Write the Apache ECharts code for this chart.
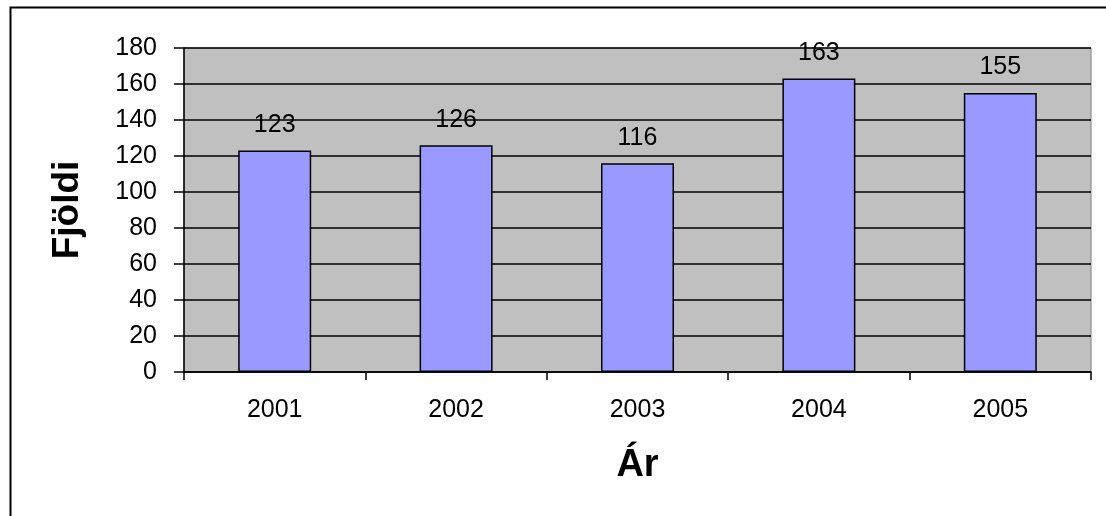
<!DOCTYPE html>
<html><head><meta charset="utf-8">
<script src="https://cdn.jsdelivr.net/npm/echarts@6/dist/echarts.min.js"></script>
<style>html,body{margin:0;padding:0;background:#fff}#c{width:1106px;height:516px}</style>
</head><body><div id="c"></div>
<script>
const categories = ['2001','2002','2003','2004','2005'];
const values = [123, 126, 116, 163, 155];
const yTicks = {min: 0, max: 180, interval: 20};

const chart = echarts.init(document.getElementById('c'), null, {renderer: 'canvas'});
const font = '"Liberation Sans", Arial, sans-serif';
chart.setOption({
  animation: false,
  graphic: [{
    type: 'rect', left: 8, top: 5, z: -10, silent: true,
    shape: {width: 1200, height: 600},
    style: {fill: 'none', stroke: '#000', lineWidth: 2}
  }],
  grid: {left: 184, top: 48, width: 907, height: 324, show: true,
    backgroundColor: '#C0C0C0', borderColor: '#808080', borderWidth: 1},
  xAxis: {
    type: 'category', data: categories,
    name: 'Ár', nameLocation: 'middle', nameGap: 75,
    nameTextStyle: {fontFamily: font, fontSize: 38, fontWeight: 'bold', color: '#000'},
    axisLine: {lineStyle: {color: '#000', width: 1.5}},
    axisTick: {show: true, length: 8, lineStyle: {color: '#000', width: 1.5}},
    axisLabel: {fontFamily: font, fontSize: 25, color: '#000', margin: 26}
  },
  yAxis: {
    type: 'value', min: yTicks.min, max: yTicks.max, interval: yTicks.interval,
    name: 'Fjöldi', nameLocation: 'middle', nameGap: 98,
    nameTextStyle: {fontFamily: font, fontSize: 37, fontWeight: 'bold', color: '#000'},
    axisLine: {show: true, lineStyle: {color: '#000', width: 1.5}},
    axisTick: {show: true, length: 10, lineStyle: {color: '#000', width: 1.5}},
    axisLabel: {fontFamily: font, fontSize: 25, color: '#000', margin: 27},
    splitLine: {lineStyle: {color: '#000', width: 1.5}}
  },
  series: [{
    type: 'bar', data: values, barWidth: 73,
    itemStyle: {color: '#9999FF', borderColor: '#000', borderWidth: 1.5},
    label: {show: true, position: 'top', distance: 13,
      fontFamily: font, fontSize: 25, color: '#000'}
  }]
});
</script></body></html>
